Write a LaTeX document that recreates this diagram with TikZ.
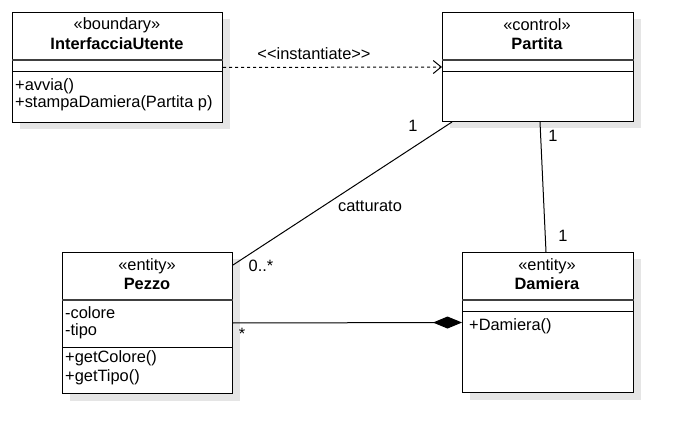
\documentclass[tikz,border=0pt]{standalone}
\usepackage{fontspec}
\setmainfont{Liberation Sans}
\usetikzlibrary{arrows.meta, shadows}

\begin{document}
\begin{tikzpicture}[x = 1pt, y = -1pt]
\tikzstyle{ClassStyle}=[
draw,
line width = 1pt,
fill = white,
anchor = north west,
inner sep = 0pt,
drop shadow = {shadow xshift = 7pt, shadow yshift = -7pt, fill = black!10, opacity = 1}]
\tikzstyle{HeadStyle}=[line width = 2pt, draw = black!75]
\tikzstyle{BodyStyle}=[line width = 1pt]
\tikzstyle{TextStyle}=[inner sep = 0pt, font = \fontsize{16.4}{19}\selectfont]
\tikzstyle{NameStyle}=[inner sep = 0pt, font = \fontsize{16.4}{19}\selectfont\bfseries]
\tikzstyle{MemberStyle}=[inner sep = 0pt, anchor = west, font = \fontsize{16.4}{19}\selectfont]
\tikzstyle{EdgeStyle}=[line width = 1pt]
\useasboundingbox[fill = white] (0,0) rectangle (682,443);
\node[ClassStyle, minimum width = 210pt, minimum height = 110pt] (iu) at (12,12) {};
\node[ClassStyle, minimum width = 191pt, minimum height = 109pt] (pa) at (442,12) {};
\node[ClassStyle, minimum width = 170pt, minimum height = 141pt] (pz) at (62,252) {};
\node[ClassStyle, minimum width = 171pt, minimum height = 140pt] (da) at (462,252) {};
\draw[HeadStyle] ([yshift = -48pt]iu.north west) -- ([yshift = -48pt]iu.north east);
\draw[BodyStyle] ([yshift = -60pt]iu.north west) -- ([yshift = -60pt]iu.north east);
\draw[HeadStyle] ([yshift = -48pt]pa.north west) -- ([yshift = -48pt]pa.north east);
\draw[BodyStyle] ([yshift = -60pt]pa.north west) -- ([yshift = -60pt]pa.north east);
\draw[HeadStyle] ([yshift = -48pt]pz.north west) -- ([yshift = -48pt]pz.north east);
\draw[BodyStyle] ([yshift = -95pt]pz.north west) -- ([yshift = -95pt]pz.north east);
\draw[HeadStyle] ([yshift = -48pt]da.north west) -- ([yshift = -48pt]da.north east);
\draw[BodyStyle] ([yshift = -60pt]da.north west) -- ([yshift = -60pt]da.north east);
\node[TextStyle] (iuster) at (117,25) {«boundary»};
\node[NameStyle] (iuname) at (117,44) {InterfacciaUtente};
\node[MemberStyle] (avvia) at (15,86) {+avvia()};
\node[MemberStyle] (stampa) at (15,103) {+stampaDamiera(Partita p)};
\node[TextStyle] (paster) at (537,25) {«control»};
\node[NameStyle] (paname) at (537,44) {Partita};
\node[TextStyle] (pzster) at (147,266) {«entity»};
\node[NameStyle] (pzname) at (147,284) {Pezzo};
\node[MemberStyle] (colore) at (65,313) {-colore};
\node[MemberStyle] (tipo) at (65,331) {-tipo};
\node[MemberStyle] (getcol) at (65,358) {+getColore()};
\node[MemberStyle] (gettipo) at (65,377) {+getTipo()};
\node[TextStyle] (dast) at (547,266) {«entity»};
\node[NameStyle] (daname) at (547,284) {Damiera};
\node[MemberStyle] (dacons) at (469,326) {+Damiera()};
\draw[EdgeStyle, dashed, dash pattern = on 3pt off 3pt, -{Straight Barb[length = 8pt, width = 13pt, line width = 1pt]}] (iu.east) -- (pa.west);
\node[TextStyle] (inst) at (314,54) {<{}<instantiate>{}>};
\draw[EdgeStyle] ([xshift = -86pt]pa.south) -- ([yshift = -13pt]pz.north east);
\node[TextStyle] (m1) at (413,126) {1};
\node[TextStyle] (m2) at (261,266) {0..*};
\node[TextStyle] (catt) at (370,206) {catturato};
\draw[EdgeStyle] ([xshift = 2pt]pa.south) -- ([xshift = -2pt]da.north);
\node[TextStyle] (m3) at (553,136) {1};
\node[TextStyle] (m4) at (563,236) {1};
\draw[EdgeStyle, -{Diamond[length = 29pt, width = 12pt]}] (pz.east) -- (da.west);
\node[TextStyle] (m5) at (242,334) {*};
\end{tikzpicture}
\end{document}
